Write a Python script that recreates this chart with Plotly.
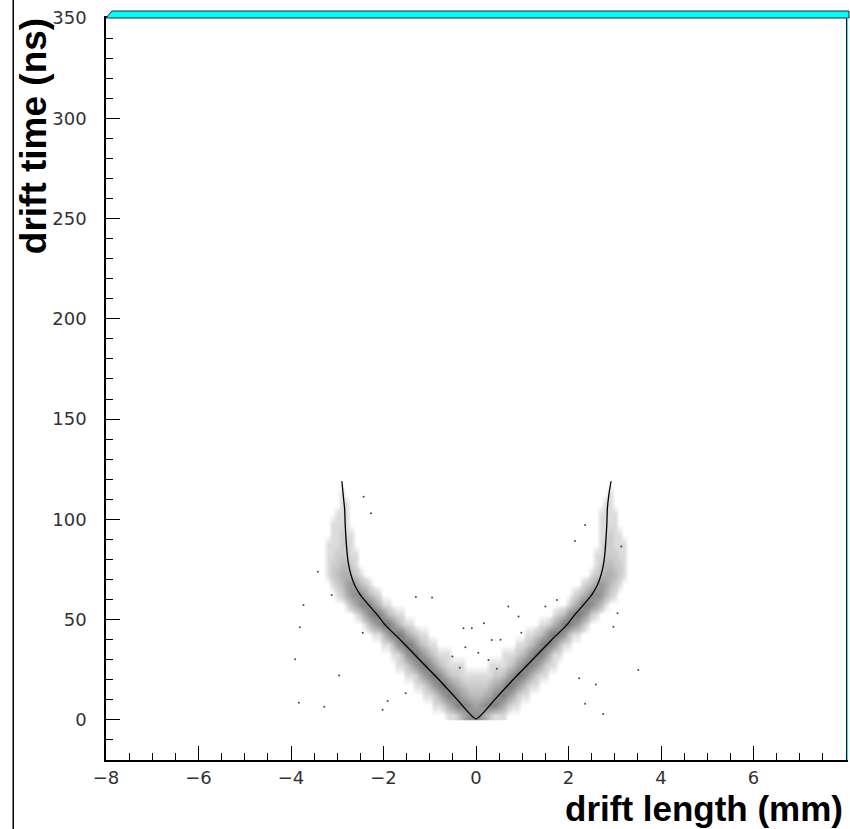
import numpy as np
import plotly.graph_objects as go

# ---------------- data ----------------
# fitted drift-time relation (black curve)
CURVE_X = [-2.90, -2.87, -2.84, -2.83, -2.81, -2.79, -2.76, -2.70, -2.62, -2.52, -2.42, -2.29, -2.12, -1.95,
           -1.64, -1.22, -0.80, -0.40, 0.0, 0.40, 0.80, 1.22, 1.64, 1.95, 2.12, 2.29, 2.42, 2.52, 2.62,
           2.70, 2.76, 2.79, 2.81, 2.83, 2.84, 2.87, 2.92]
CURVE_Y = [119, 112, 105, 98, 90, 84, 78, 72, 67, 63, 60, 56.5, 52, 47,
           40, 30, 20, 10, 0.5, 10, 20, 30, 40, 47, 52, 56.5, 60, 63, 67,
           72, 78, 84, 90, 98, 105, 112, 119]

# 2-D histogram of hits (rows of 5 ns, cells of 0.1 mm): row centre, first cell centre, counts
BAND_Y = [2.5, 7.5, 12.5, 17.5, 22.5,
          27.5, 27.5, 32.5, 32.5, 37.5, 37.5, 42.5, 42.5, 47.5, 47.5,
          52.5, 52.5, 57.5, 57.5, 62.5, 62.5, 67.5, 67.5, 72.5, 72.5,
          77.5, 77.5, 82.5, 82.5, 87.5, 87.5, 92.5, 92.5, 97.5, 97.5,
          102.5, 102.5, 107.5, 107.5, 112.5, 112.5]
BAND_X0 = [-0.6, -0.9, -1.1, -1.3, -1.5,
           -1.7, 0.3, -1.8, 0.6, -2.0, 0.9, -2.2, 1.1, -2.4, 1.4,
           -2.6, 1.7, -2.8, 2.0, -3.0, 2.1, -3.1, 2.3, -3.2, 2.5,
           -3.2, 2.6, -3.2, 2.6, -3.2, 2.7, -3.1, 2.7, -3.1, 2.7,
           -3.0, 2.7, -2.9, 2.8, -2.9, 2.9]
BAND_COUNTS = [
    [1, 1, 2, 4, 6, 7, 7, 6, 4, 2, 1, 1, 1],
    [1, 1, 2, 4, 6, 8, 8, 7, 6, 5, 6, 7, 8, 8, 6, 4, 2, 1, 1],
    [1, 1, 2, 4, 6, 8, 8, 7, 5, 4, 3, 3, 3, 4, 5, 7, 8, 8, 6, 4, 2, 1, 1],
    [1, 1, 2, 4, 6, 8, 9, 7, 5, 4, 3, 2, 2, 2, 2, 2, 3, 4, 5, 7, 9, 8, 6, 4, 2, 1, 1],
    [1, 1, 2, 4, 6, 8, 9, 7, 5, 3, 2, 2, 1, 1, 1, 1, 1, 1, 1, 2, 2, 3, 5, 7, 9, 8, 6, 4, 2, 1, 1],
    [1, 1, 2, 4, 6, 8, 9, 7, 5, 3, 2, 1, 1, 1, 1],
    [1, 1, 1, 1, 2, 3, 5, 7, 9, 8, 6, 4, 2, 1, 1],
    [1, 1, 3, 6, 8, 9, 7, 5, 3, 2, 1, 1, 1],
    [1, 1, 1, 2, 3, 5, 7, 9, 8, 6, 3, 1, 1],
    [1, 1, 3, 6, 8, 9, 8, 5, 3, 2, 1, 1],
    [1, 1, 2, 3, 5, 8, 9, 8, 6, 3, 1, 1],
    [1, 1, 3, 6, 8, 9, 8, 5, 3, 2, 1, 1],
    [1, 1, 2, 3, 5, 8, 9, 8, 6, 3, 1, 1],
    [1, 3, 5, 7, 9, 9, 6, 4, 2, 1, 1],
    [1, 1, 2, 4, 6, 9, 9, 7, 5, 3, 1],
    [1, 2, 5, 7, 9, 8, 6, 3, 2, 1, 1],
    [1, 2, 3, 6, 8, 9, 7, 5, 2, 1],
    [1, 3, 5, 7, 8, 8, 5, 3, 1, 1],
    [1, 3, 5, 8, 8, 7, 5, 3, 1],
    [1, 2, 4, 6, 7, 7, 5, 3, 2, 1],
    [1, 2, 3, 5, 7, 7, 6, 4, 2, 1],
    [1, 2, 3, 5, 6, 5, 3, 2, 1],
    [1, 2, 3, 5, 6, 5, 3, 2, 1],
    [1, 2, 3, 4, 4, 3, 2, 1],
    [1, 2, 3, 4, 4, 3, 2, 1],
    [1, 2, 2, 3, 3, 2, 1],
    [1, 2, 3, 3, 2, 2, 1],
    [1, 1, 2, 2, 2, 1, 1],
    [1, 1, 2, 2, 2, 1, 1],
    [1, 1, 1, 2, 2, 1],
    [1, 2, 2, 1, 1, 1],
    [1, 1, 2, 1, 1],
    [1, 1, 2, 1, 1],
    [1, 1, 1, 1],
    [1, 1, 1, 1],
    [1, 1, 1],
    [1, 1, 1, 1],
    [1, 1],
    [1, 1],
    [1],
    [1],
]

# isolated hits away from the band
OUT_X = [-3.91, -3.83, -3.81, -3.73, -3.42, -3.28, -3.12, -2.96, -2.45, -2.43,
         -2.27, -2.02, -1.91, -1.52, -1.30, -0.95, -0.27, -0.09, 0.17, 0.34,
         0.53, 0.70, 0.92, 0.98, 1.50, 1.75, 2.14, 2.23, 2.36, 2.36,
         2.59, 2.75, 2.97, 3.06, 3.14, 3.51,
         -0.51, -0.23, 0.27, 0.05, -0.35, 0.45]
OUT_Y = [30.2, 8.6, 46.2, 57.3, 73.9, 6.6, 62.3, 22.1, 43.5, 111.3,
         103, 5.0, 9.4, 13.3, 61.3, 61, 45.7, 45.7, 48.2, 39.9,
         40, 56.5, 51.5, 43.5, 56.5, 59.8, 89.2, 20.8, 97.2, 8.0,
         17.6, 3.0, 46.5, 53.2, 86.4, 24.9,
         31.6, 36.2, 29.9, 33.5, 26.0, 25.5]

X_TICKS = [-8, -6, -4, -2, 0, 2, 4, 6, 8]
Y_TICKS = [0, 50, 100, 150, 200, 250, 300, 350]
X_TITLE = "drift length (mm)"
Y_TITLE = "drift time (ns)"

# ---------------- build the histogram table ----------------
xc = np.round(np.arange(-3.6, 3.6001, 0.1), 1)
yc = np.arange(2.5, 120, 5.0)
z = np.zeros((len(yc), len(xc)))
for yv, x0, counts in zip(BAND_Y, BAND_X0, BAND_COUNTS):
    r = int(np.argmin(np.abs(yc - yv)))
    c0 = int(round((x0 + 3.6) * 10))
    for j, c in enumerate(counts):
        z[r, c0 + j] += c

# ---------------- figure ----------------
W, H = 850, 829
L, R, T, B = 106, 2, 18, 69
PW, PH = W - L - R, H - T - B


def px(xp):
    return (xp - L) / PW


def py(yp):
    return (H - B - yp) / PH


fig = go.Figure()
fig.add_trace(go.Heatmap(
    x=xc, y=yc, z=z, zmin=0, zmax=10, zsmooth="best",
    colorscale=[[0, "rgb(255,255,255)"], [0.1, "rgb(220,220,220)"], [0.3, "rgb(188,188,188)"],
                [0.6, "rgb(152,152,152)"], [0.9, "rgb(122,122,122)"], [1, "rgb(112,112,112)"]],
    showscale=False, hoverinfo="skip"))
fig.add_trace(go.Scatter(
    x=OUT_X, y=OUT_Y, mode="markers",
    marker=dict(size=2, color="rgb(70,70,70)"), hoverinfo="skip"))
fig.add_trace(go.Scatter(
    x=CURVE_X, y=CURVE_Y, mode="lines",
    line=dict(color="black", width=1.3, shape="spline", smoothing=0.5), hoverinfo="skip"))

tickfont = dict(family="DejaVu Sans, Verdana, sans-serif", size=18, color="#333")
fig.update_xaxes(
    range=[-8, 8], tickvals=X_TICKS,
    ticktext=[("\u2212" + str(-v)) if v < 0 else str(v) for v in X_TICKS],
    ticks="inside", ticklen=14, tickwidth=1, tickcolor="black",
    minor=dict(ticks="inside", ticklen=7, dtick=0.5, tick0=-8, tickcolor="black", tickwidth=1),
    showline=True, linecolor="black", linewidth=1.5, mirror=True,
    showgrid=False, zeroline=False, tickfont=tickfont, ticklabelstandoff=1)
fig.update_yaxes(
    range=[-20, 350], tickvals=Y_TICKS,
    ticks="inside", ticklen=14, tickwidth=1, tickcolor="black",
    minor=dict(ticks="inside", ticklen=7, dtick=10, tick0=0, tickcolor="black", tickwidth=1),
    showline=True, linecolor="black", linewidth=1.5, mirror=True,
    showgrid=False, zeroline=False, tickfont=tickfont, ticklabelstandoff=14)

titlefont = dict(family="Liberation Sans, Arial, sans-serif", size=35, color="black")
fig.add_annotation(text="<b>" + X_TITLE + "</b>", xref="paper", yref="paper",
                   x=px(846), y=py(808), xanchor="right", yanchor="middle", borderpad=0,
                   showarrow=False, font=titlefont)
fig.add_annotation(text="<b>" + Y_TITLE + "</b>", xref="paper", yref="paper",
                   x=px(33), y=py(136), xanchor="center", yanchor="middle", borderpad=0,
                   textangle=-90, showarrow=False, font=dict(titlefont, size=37))

shapes = [
    # outer pad edge on the left
    dict(type="line", xref="paper", yref="paper", x0=px(13), x1=px(13), y0=py(0), y1=py(H),
         line=dict(color="black", width=1.5)),
    # cyan title box peeking above the frame
    dict(type="path", xref="paper", yref="paper",
         path=f"M {px(106)},{py(18)} L {px(112)},{py(11)} L {px(851)},{py(11)} L {px(851)},{py(18)} Z",
         fillcolor="rgb(0,255,255)", line=dict(color="rgb(40,40,40)", width=1)),
    dict(type="line", xref="paper", yref="paper", x0=px(849.5), x1=px(849.5), y0=py(18), y1=py(760),
         line=dict(color="rgb(0,255,255)", width=1)),
]
fig.update_layout(
    width=W, height=H, margin=dict(l=L, r=R, t=T, b=B, pad=0),
    paper_bgcolor="white", plot_bgcolor="white", showlegend=False, shapes=shapes)

fig.write_html("out.html")
